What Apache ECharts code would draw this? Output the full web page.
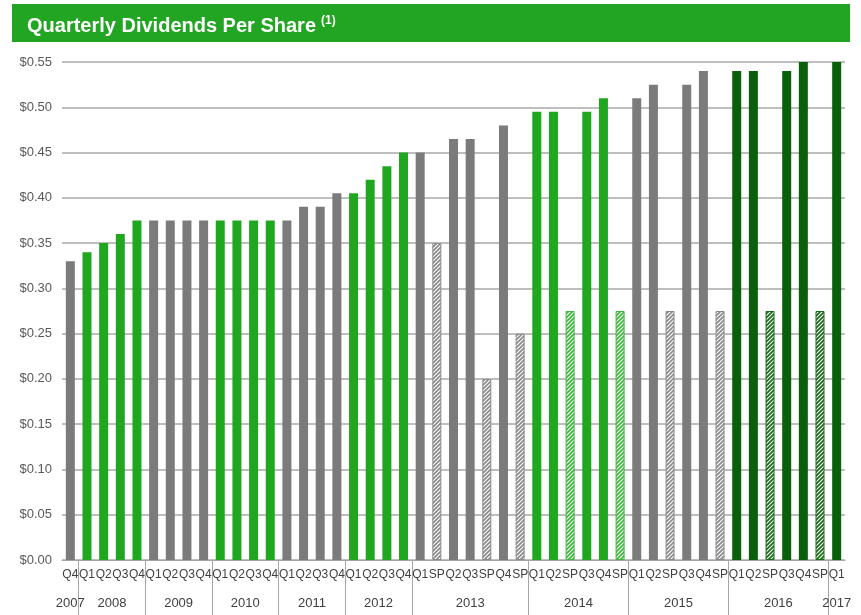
<!DOCTYPE html>
<html>
<head>
<meta charset="utf-8">
<title>Quarterly Dividends Per Share</title>
<script src="https://cdn.jsdelivr.net/npm/echarts@6/dist/echarts.min.js"></script>
<style>
  html, body { margin: 0; padding: 0; background: #fff; }
  #main { width: 861px; height: 615px; }
</style>
</head>
<body>
<div id="main"></div>
<script>
// quarter labels, one per bar
const quarters = [
  'Q4',
  'Q1', 'Q2', 'Q3', 'Q4',
  'Q1', 'Q2', 'Q3', 'Q4',
  'Q1', 'Q2', 'Q3', 'Q4',
  'Q1', 'Q2', 'Q3', 'Q4',
  'Q1', 'Q2', 'Q3', 'Q4',
  'Q1', 'SP', 'Q2', 'Q3', 'SP', 'Q4', 'SP',
  'Q1', 'Q2', 'SP', 'Q3', 'Q4', 'SP',
  'Q1', 'Q2', 'SP', 'Q3', 'Q4', 'SP',
  'Q1', 'Q2', 'SP', 'Q3', 'Q4', 'SP',
  'Q1'
];

// dividend per share ($)
const dividends = [
  0.33,
  0.34, 0.35, 0.36, 0.375,
  0.375, 0.375, 0.375, 0.375,
  0.375, 0.375, 0.375, 0.375,
  0.375, 0.39, 0.39, 0.405,
  0.405, 0.42, 0.435, 0.45,
  0.45, 0.35, 0.465, 0.465, 0.20, 0.48, 0.25,
  0.495, 0.495, 0.275, 0.495, 0.51, 0.275,
  0.51, 0.525, 0.275, 0.525, 0.54, 0.275,
  0.54, 0.54, 0.275, 0.54, 0.55, 0.275,
  0.55
];

const years = ['2007', '2008', '2009', '2010', '2011', '2012', '2013', '2014', '2015', '2016', '2017'];
const yearSpans = [1, 4, 4, 4, 4, 4, 7, 6, 6, 6, 1];
const yearShades = ['gray', 'green', 'gray', 'green', 'gray', 'green', 'gray', 'green', 'gray', 'dark', 'dark'];

const shadeColors = { gray: '#7b7b7b', green: '#1fa71f', dark: '#0a600a' };
const hatchColors = { gray: '#8a8a8a', green: '#3cb83c', dark: '#1a6e1a' };

// diagonal hatch for the special dividends
function makeHatch(color) {
  const c = document.createElement('canvas');
  c.width = 4;
  c.height = 4;
  const ctx = c.getContext('2d');
  ctx.fillStyle = '#ffffff';
  ctx.fillRect(0, 0, 4, 4);
  ctx.strokeStyle = color;
  ctx.lineWidth = 1.7;
  ctx.beginPath();
  ctx.moveTo(0, 4); ctx.lineTo(4, 0);
  ctx.moveTo(-1, 1); ctx.lineTo(1, -1);
  ctx.moveTo(3, 5); ctx.lineTo(5, 3);
  ctx.stroke();
  return c;
}

// year of each bar, from the spans
let shadeOf = [];
years.forEach((y, i) => {
  for (let k = 0; k < yearSpans[i]; k++) shadeOf.push(yearShades[i]);
});

// year label centres and group borders on the bar index scale
let yearCenters = [];
let yearBorders = [];
let start = 0;
yearSpans.forEach(n => {
  yearCenters.push(start + (n - 1) / 2);
  start += n;
  if (start < quarters.length) yearBorders.push(start - 0.5);
});

const hatches = {};
Object.keys(hatchColors).forEach(k => { hatches[k] = makeHatch(hatchColors[k]); });

const barData = dividends.map((v, i) => {
  const shade = shadeOf[i];
  if (quarters[i] === 'SP') {
    return {
      value: v,
      itemStyle: {
        color: { image: hatches[shade], repeat: 'repeat' },
        borderColor: hatchColors[shade],
        borderWidth: 1
      }
    };
  }
  return { value: v, itemStyle: { color: shadeColors[shade] } };
});

const chart = echarts.init(document.getElementById('main'));

const option = {
  animation: false,
  title: {
    text: '{t|Quarterly Dividends Per Share} {s|(1)}',
    left: 22,
    top: 10,
    z: 10,
    textStyle: {
      rich: {
        t: { color: '#fff', fontSize: 20, fontWeight: 'bold', fontFamily: 'Liberation Sans, Arial, sans-serif' },
        s: { color: '#fff', fontSize: 12, fontWeight: 'bold', fontFamily: 'Liberation Sans, Arial, sans-serif', verticalAlign: 'top', padding: [0, 0, 10, 0] }
      }
    }
  },
  graphic: [{
    type: 'rect',
    left: 12,
    top: 4,
    z: 0,
    shape: { width: 838, height: 38 },
    style: { fill: '#22a522' }
  }],
  grid: { left: 62, right: 16, top: 62, bottom: 55 },
  xAxis: [{
    type: 'category',
    data: quarters,
    axisLine: { lineStyle: { color: '#a6a6a6', width: 1 } },
    axisTick: { length: 4, lineStyle: { color: '#a6a6a6' } },
    axisLabel: {
      interval: 0,
      margin: 9,
      color: '#404040',
      fontSize: 12,
      fontFamily: 'Liberation Sans, Arial, sans-serif'
    }
  }, {
    type: 'value',
    position: 'bottom',
    min: -0.5,
    max: quarters.length - 0.5,
    axisLine: { show: false },
    splitLine: { show: false },
    axisTick: {
      show: true,
      customValues: yearBorders,
      length: 55,
      lineStyle: { color: '#a6a6a6' }
    },
    axisLabel: {
      customValues: yearCenters,
      margin: 37,
      color: '#404040',
      fontSize: 13,
      fontFamily: 'Liberation Sans, Arial, sans-serif',
      formatter: v => years[yearCenters.indexOf(v)]
    }
  }],
  yAxis: {
    type: 'value',
    min: 0,
    max: 0.55,
    interval: 0.05,
    axisLine: { show: false },
    axisTick: { show: false },
    splitLine: { lineStyle: { color: '#a8a8a8', width: 1.5 } },
    axisLabel: {
      margin: 10,
      color: '#595959',
      fontSize: 13,
      fontFamily: 'Liberation Sans, Arial, sans-serif',
      formatter: v => '$' + v.toFixed(2)
    }
  },
  series: [{
    type: 'bar',
    xAxisIndex: 0,
    barWidth: '54%',
    data: barData
  }]
};

chart.setOption(option);
</script>
</body>
</html>
